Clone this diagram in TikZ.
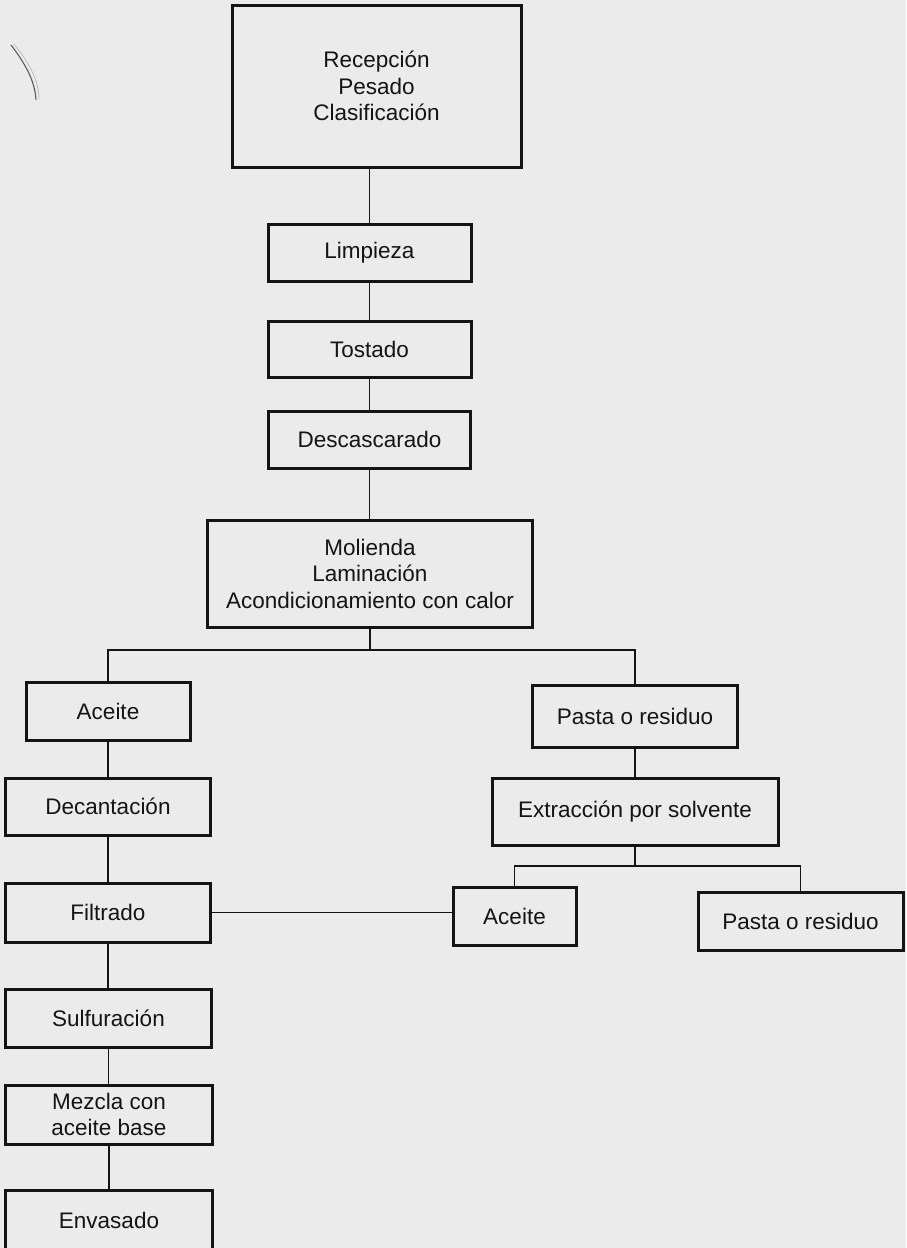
\documentclass[tikz,border=0pt]{standalone}
\usepackage{fontspec}
\setmainfont{Liberation Sans}
\definecolor{paper}{RGB}{235,235,235}
\definecolor{ink}{RGB}{20,20,20}
\begin{document}
\begin{tikzpicture}[x=1pt,y=-1pt,
  bx/.style={draw=ink, line width=3pt, inner sep=0pt, align=center, text=ink,
    font=\fontsize{22.5}{26.5}\selectfont},
  cn/.style={draw=ink, line width=1.8pt}]
\fill[paper] (0,0) rectangle (906,1248);
\useasboundingbox (0,0) rectangle (906,1248);
\begin{scope}
\clip (0,0) rectangle (906,1248);
% scan mark
\draw[ink!70, line width=1.1pt] (11,45) .. controls (24,62) and (35,80) .. (36,100);
\draw[ink!30, line width=0.7pt] (14,44) .. controls (28,61) and (39,80) .. (39,99);
% boxes
\node[bx, minimum width=289pt, minimum height=162pt] (rec) at (376.5,86) {Recepción\\Pesado\\Clasificación};
\node[bx, minimum width=203pt, minimum height=57pt] (lim) at (369.5,252.5) {Limpieza};
\node[bx, minimum width=203pt, minimum height=56pt] (tos) at (369.5,349) {Tostado};
\node[bx, minimum width=202pt, minimum height=57pt] (des) at (369.5,439.5) {Descascarado};
\node[bx, minimum width=325pt, minimum height=107pt] (mol) at (370,573.5) {Molienda\\Laminación\\Acondicionamiento con calor};
\node[bx, minimum width=164pt, minimum height=58pt] (ace1) at (108,711) {Aceite};
\node[bx, minimum width=205pt, minimum height=62pt] (pas1) at (635,716) {Pasta o residuo};
\node[bx, minimum width=286pt, minimum height=67pt] (ext) at (635,811.5) {Extracción por solvente};
\node[bx, minimum width=205pt, minimum height=57pt] (dec) at (108,806.5) {Decantación};
\node[bx, minimum width=205pt, minimum height=59pt] (fil) at (108,912.5) {Filtrado};
\node[bx, minimum width=123pt, minimum height=58pt] (ace2) at (514.5,916) {Aceite};
\node[bx, minimum width=205pt, minimum height=58pt] (pas2) at (800.5,921) {Pasta o residuo};
\node[bx, minimum width=206pt, minimum height=58pt] (sul) at (108.5,1018) {Sulfuración};
\node[bx, minimum width=207pt, minimum height=59pt] (mez) at (109,1114.5) {Mezcla con\\aceite base};
\node[bx, minimum width=207pt, minimum height=60pt] (env) at (109,1220) {Envasado};
% connectors
\coordinate (b1) at (370,650);
\coordinate (b2) at (635,866);
\draw[cn] (lim.north |- rec.south) -- (lim.north);
\draw[cn] (lim.south) -- (tos.north);
\draw[cn] (tos.south) -- (tos.south |- des.north);
\draw[cn] (des.south) -- (des.south |- mol.north);
\draw[cn] (mol.south) -- (b1);
\draw[cn] (ace1.north) -- (ace1.north |- b1) -- (pas1.north |- b1) -- (pas1.north);
\draw[cn] (ace1.south) -- (ace1.south |- dec.north);
\draw[cn] (dec.south) -- (dec.south |- fil.north);
\draw[cn] (fil.south) -- (fil.south |- sul.north);
\draw[cn] (sul.south) -- (sul.south |- mez.north);
\draw[cn] (mez.south) -- (mez.south |- env.north);
\draw[cn] (pas1.south) -- (pas1.south |- ext.north);
\draw[cn] (ext.south) -- (b2);
\draw[cn] (ace2.north) -- (ace2.north |- b2) -- (pas2.north |- b2) -- (pas2.north);
\draw[cn] (fil.east) -- (ace2.west |- fil.east);
\end{scope}
\end{tikzpicture}
\end{document}
